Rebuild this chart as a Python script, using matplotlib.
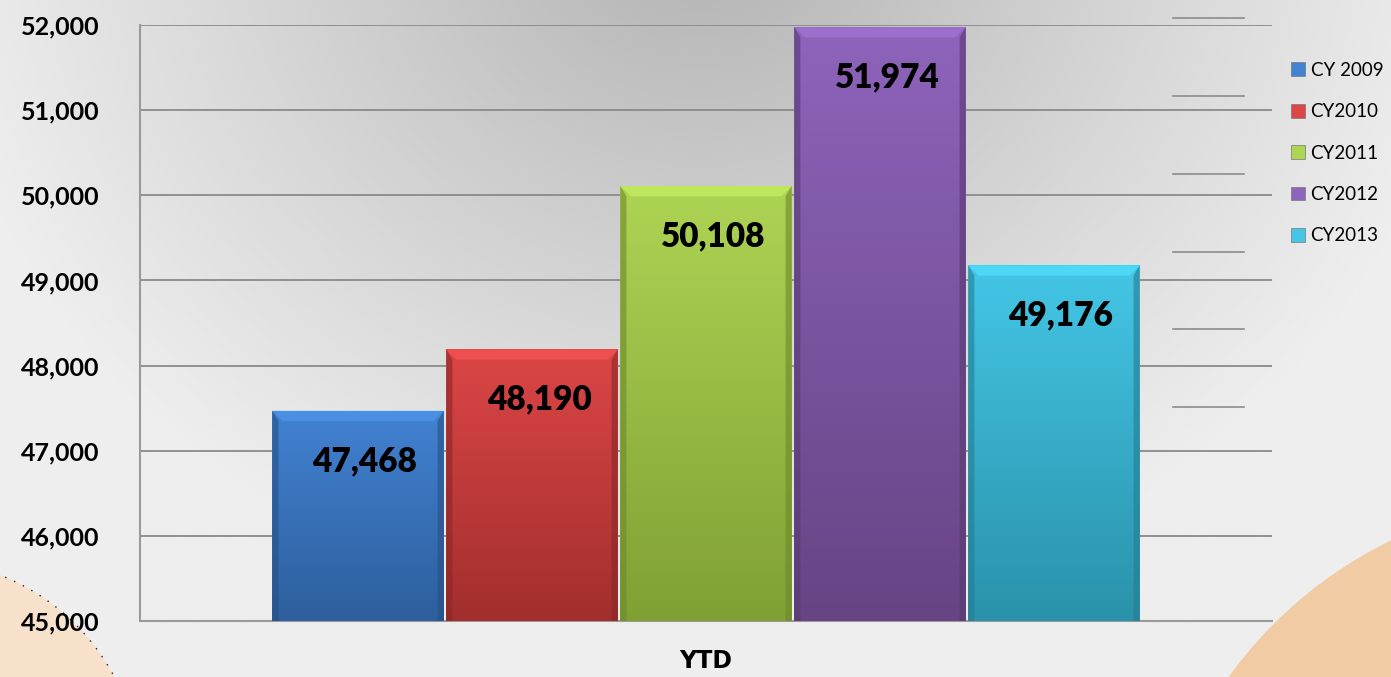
import numpy as np
import matplotlib.pyplot as plt
from matplotlib.colors import LinearSegmentedColormap, to_rgb
from matplotlib.patches import Circle, Polygon

## data
series = ["CY 2009", "CY2010", "CY2011", "CY2012", "CY2013"]
values = [47468, 48190, 50108, 51974, 49176]
category = "YTD"
yticks = [45000, 46000, 47000, 48000, 49000, 50000, 51000, 52000]

## colours (top of bar, bottom of bar)
tops = ["#4282D2", "#DC4646", "#AED454", "#8E64BC", "#44C6E6"]
bottoms = ["#2E5E9C", "#A22E2E", "#7FA034", "#674484", "#2A92AA"]

W, H = 1391, 677
fig = plt.figure(figsize=(W / 100, H / 100), dpi=100)

## background: radial grey gradient plus the two peach circles
bg = fig.add_axes([0, 0, 1, 1], zorder=-5)
gx, gy = np.meshgrid(np.linspace(0, W, 280), np.linspace(0, H, 140))
r = np.sqrt(((gx - 700) / 1.1) ** 2 + (gy + 80) ** 2)
t = np.clip(r / 700, 0, 1) ** 0.9
c0, c1 = np.array(to_rgb("#B0B0B0")), np.array(to_rgb("#EEEEEE"))
img = c0[None, None, :] * (1 - t[..., None]) + c1[None, None, :] * t[..., None]
bg.imshow(img, extent=[0, W, H, 0], aspect="auto", interpolation="bilinear")
bg.add_patch(Circle((-80, 780), 220, facecolor="#F7E1CB", edgecolor="#222222",
                    lw=1.0, linestyle=(0, (1, 6))))
bg.add_patch(Circle((1580, 930), 433, facecolor="#F0CBA3", edgecolor="none"))
for yy in [18, 96, 174, 252, 329, 407]:
    bg.plot([1173, 1244], [yy, yy], color="#8C8C8C", lw=1.2)
bg.set_xlim(0, W)
bg.set_ylim(H, 0)
bg.axis("off")

## chart
ax = fig.add_axes([140 / W, 1 - 621 / H, (1272 - 140) / W, (621 - 25) / H])
ax.patch.set_alpha(0)
ax.yaxis.grid(True, color="#8A8A8A", lw=1.3)
ax.set_axisbelow(True)
for s in ["top", "right"]:
    ax.spines[s].set_visible(False)
for s in ["left", "bottom"]:
    ax.spines[s].set_color("#9A9A9A")
    ax.spines[s].set_linewidth(1.5)

bw = 0.1537
n = len(values)
handles = []
for i, (lab, v) in enumerate(zip(series, values)):
    x = (i - (n - 1) / 2) * bw
    bar = ax.bar(x, v - 45000, bottom=45000, width=bw * 0.985,
                 color=bottoms[i], edgecolor="none", label=lab, zorder=3)
    p = bar[0]
    x0, x1 = p.get_x(), p.get_x() + p.get_width()
    y0, y1 = p.get_y(), p.get_y() + p.get_height()
    cm = LinearSegmentedColormap.from_list("g", [bottoms[i], tops[i]])
    grad = np.linspace(0, 1, 256).reshape(-1, 1)
    im = ax.imshow(grad, cmap=cm, extent=[x0, x1, y0, y1], origin="lower",
                   aspect="auto", zorder=4)
    im.set_clip_path(p)
    # bevel on top and sides
    dx = 0.009
    dy = 120
    top_c = np.clip(np.array(to_rgb(tops[i])) * 1.06 + 0.02, 0, 1)
    ax.add_patch(Polygon([[x0, y1], [x1, y1], [x1 - dx, y1 - dy], [x0 + dx, y1 - dy]],
                         closed=True, facecolor=top_c, edgecolor="none", zorder=5))
    side_c = np.array(to_rgb(bottoms[i])) * 0.85
    ax.add_patch(Polygon([[x0, y0], [x0, y1], [x0 + dx * 0.6, y1 - dy], [x0 + dx * 0.6, y0]],
                         closed=True, facecolor=side_c, edgecolor="none", zorder=5, alpha=0.6))
    ax.add_patch(Polygon([[x1, y0], [x1, y1], [x1 - dx * 0.6, y1 - dy], [x1 - dx * 0.6, y0]],
                         closed=True, facecolor=side_c, edgecolor="none", zorder=5, alpha=0.6))
    ax.annotate(f"{v:,}", (x, v), xytext=(5, -36), textcoords="offset points",
                ha="center", va="center", fontsize=24, fontweight="heavy",
                family="Lato", color="black", zorder=6)
    handles.append(bar)

ax.set_ylim(45000, 52000)
ax.set_xlim(-0.5, 0.5)
ax.set_yticks(yticks, [f"{v:,}" for v in yticks], fontfamily="Lato",
              fontweight="bold", fontsize=18)
ax.set_xticks([0], [""])
ax.tick_params(axis="y", length=0, pad=29)
ax.tick_params(axis="x", length=0)
ax.set_xlabel(category, fontfamily="DejaVu Sans", fontweight="bold",
              fontsize=17, labelpad=17)

leg = fig.legend(handles=handles, labels=series, loc="upper left",
                 bbox_to_anchor=(1274 / W, 1 - 45 / H), frameon=False,
                 prop={"family": "Lato", "size": 13.5}, handlelength=0.75,
                 handleheight=0.75, handletextpad=0.3, labelspacing=1.3)
for hnd, c in zip(leg.legend_handles, tops):
    hnd.set_facecolor(c)
    hnd.set_edgecolor("#777777")
    hnd.set_linewidth(0.5)

fig.savefig("out.png", dpi=100)
